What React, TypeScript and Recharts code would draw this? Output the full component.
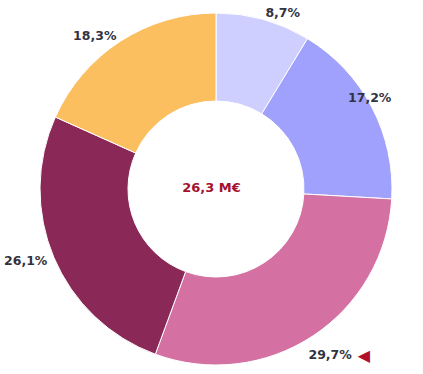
import { Cell, Label, Pie, PieChart } from "recharts"

const names = ["A", "B", "C", "D", "E"]
const shares = [8.7, 17.2, 29.7, 26.1, 18.3]
const colors = ["#cfcfff", "#a0a0fd", "#d470a2", "#8a2957", "#fbbf60"]
const marked = [false, false, true, false, false]
const total = "26,3 M€"

const data = names.map((name, i) => ({ name, value: shares[i] }))

const RAD = Math.PI / 180
const fmt = (v: number) => v.toFixed(1).replace(".", ",") + "%"

function renderLabel(props: any) {
  const { cx, cy, midAngle, outerRadius, index, value } = props
  const r = outerRadius + 7
  let x = cx + r * Math.cos(-midAngle * RAD)
  let y = cy + r * Math.sin(-midAngle * RAD)
  const right = x > cx
  const textW = 44
  if (right && x + textW > 392) {
    x = 392 - textW
    y -= 6
  }
  // the marked label sits a bit lower, like the original
  if (marked[index]) {
    x -= 8
    y += 13
  }
  return (
    <text
      x={x}
      y={y}
      textAnchor={right ? "start" : "end"}
      dominantBaseline="central"
      fill="#33333f"
      fontSize={12.5}
      fontWeight="bold"
      fontFamily="DejaVu Sans"
    >
      {fmt(value)}
      {marked[index] && (
        <tspan dx={6} fill="#b0102a" fontSize={16}>
          ◀
        </tspan>
      )}
    </text>
  )
}

export default function App() {
  return (
    <div style={{ position: "absolute", left: 0, top: 0 }}>
      <PieChart width={423} height={374} margin={{ top: 0, right: 0, bottom: 0, left: 0 }}>
        <Pie
          data={data}
          dataKey="value"
          cx={216}
          cy={189}
          innerRadius={88}
          outerRadius={176}
          startAngle={90}
          endAngle={-270}
          stroke="#ffffff"
          strokeWidth={1}
          label={renderLabel}
          labelLine={false}
          isAnimationActive={false}
        >
          {data.map((d, i) => (
            <Cell key={d.name} fill={colors[i]} />
          ))}
          <Label
            value={total}
            position="center"
            fill="#a4122e"
            fontSize={13}
            fontWeight="bold"
            fontFamily="DejaVu Sans"
          />
        </Pie>
      </PieChart>
    </div>
  )
}
